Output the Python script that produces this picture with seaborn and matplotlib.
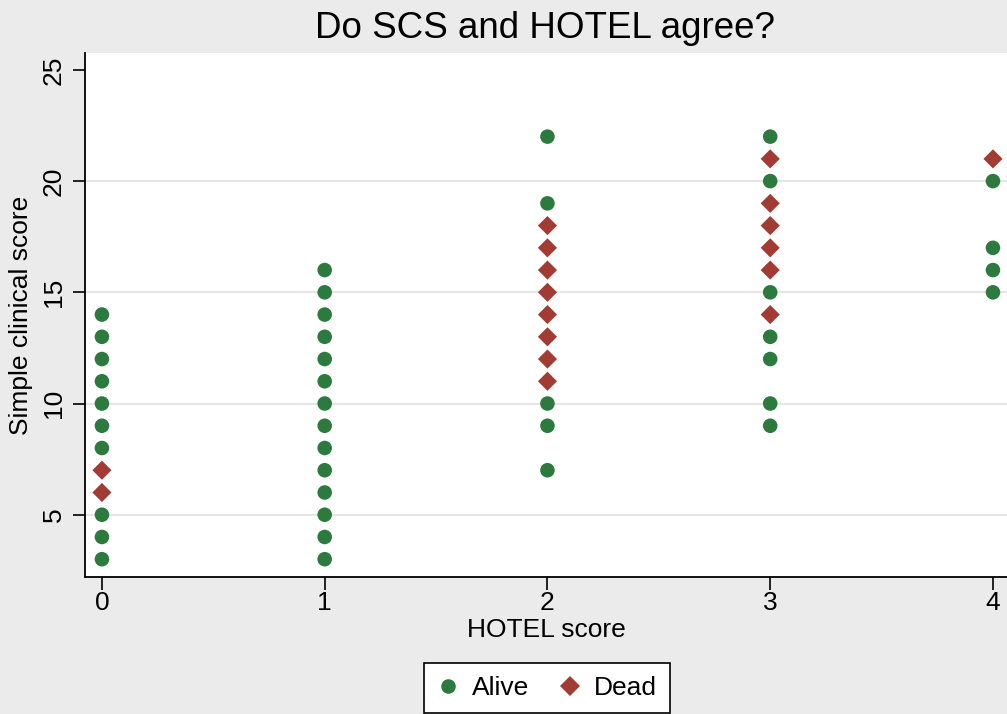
import matplotlib
matplotlib.use("Agg")
import matplotlib.pyplot as plt
import seaborn as sns
import pandas as pd

# HOTEL score -> simple clinical scores, split by outcome
hotel_alive = [0]*10 + [1]*14 + [2]*5 + [3]*7 + [4]*4
scs_alive = [3, 4, 5, 8, 9, 10, 11, 12, 13, 14,
             3, 4, 5, 6, 7, 8, 9, 10, 11, 12, 13, 14, 15, 16,
             7, 9, 10, 19, 22,
             9, 10, 12, 13, 15, 20, 22,
             15, 16, 17, 20]
hotel_dead = [0]*2 + [2]*8 + [3]*6 + [4]*1
scs_dead = [6, 7,
            11, 12, 13, 14, 15, 16, 17, 18,
            14, 16, 17, 18, 19, 21,
            21]

x_ticks = [0, 1, 2, 3, 4]
y_ticks = [5, 10, 15, 20, 25]

df = pd.DataFrame({
    "HOTEL score": hotel_alive + hotel_dead,
    "Simple clinical score": scs_alive + scs_dead,
    "status": ["Alive"]*len(scs_alive) + ["Dead"]*len(scs_dead),
})

sns.set_style("white")
plt.rcParams["font.family"] = ["Liberation Sans", "DejaVu Sans"]
plt.rcParams["text.color"] = "black"
plt.rcParams["axes.labelcolor"] = "black"
plt.rcParams["xtick.color"] = "black"
plt.rcParams["ytick.color"] = "black"

bg = "#EBEBEB"
W, H = 1007, 714
fig = plt.figure(figsize=(W/100, H/100), dpi=100, facecolor=bg)
# plot region in pixels: left 85, right 1007, top 53, bottom 577
ax = fig.add_axes([85/W, 1 - 577/H, (1007 - 85)/W, (577 - 53)/H])
ax.set_facecolor("white")

palette = {"Alive": "#2D7A3E", "Dead": "#A13B33"}
markers = {"Alive": "o", "Dead": "D"}
sns.scatterplot(data=df, x="HOTEL score", y="Simple clinical score",
                hue="status", style="status", palette=palette, markers=markers,
                size="status", sizes={"Alive": 110, "Dead": 95},
                linewidth=0, ax=ax, zorder=3, clip_on=False)

ax.set_xlim(-0.076, 4.063)
ax.set_ylim(2.2, 25.76)
ax.set_xticks(x_ticks)
ax.set_yticks(y_ticks)
ax.set_xticklabels([str(v) for v in x_ticks], fontsize=19)
ax.set_yticklabels([str(v) for v in y_ticks], fontsize=19, rotation=90, va="center")
ax.tick_params(axis="both", bottom=True, left=True, length=9, width=1.2,
               color="black", labelcolor="black", direction="out")
ax.tick_params(axis="x", pad=1)
ax.tick_params(axis="y", pad=5)

for v in y_ticks[:-1]:
    ax.axhline(v, color="#E6E6E6", lw=1.6, zorder=1)

for s in ["top", "right"]:
    ax.spines[s].set_visible(False)
for s in ["left", "bottom"]:
    ax.spines[s].set_linewidth(1.3)
    ax.spines[s].set_color("black")

ax.set_xlabel("HOTEL score", fontsize=19, labelpad=2, color="black")
ax.set_ylabel("Simple clinical score", fontsize=19, labelpad=6, color="black")

fig.text(545/W, 1 - 28/H, "Do SCS and HOTEL agree?", fontsize=26.5,
         ha="center", va="center", color="black")

sns.move_legend(ax, "upper center", bbox_to_anchor=(547/W, 1 - 663/H),
                bbox_transform=fig.transFigure, ncol=2, title=None,
                frameon=True, fontsize=19, handlelength=0.8, handletextpad=0.5,
                columnspacing=1.15, borderpad=0.5, borderaxespad=0,
                fancybox=False, edgecolor="black", facecolor="white",
                framealpha=1, markerscale=1.0)
leg = ax.get_legend()
leg.get_frame().set_linewidth(1.2)

fig.savefig("out.png", dpi=100, facecolor=bg)
